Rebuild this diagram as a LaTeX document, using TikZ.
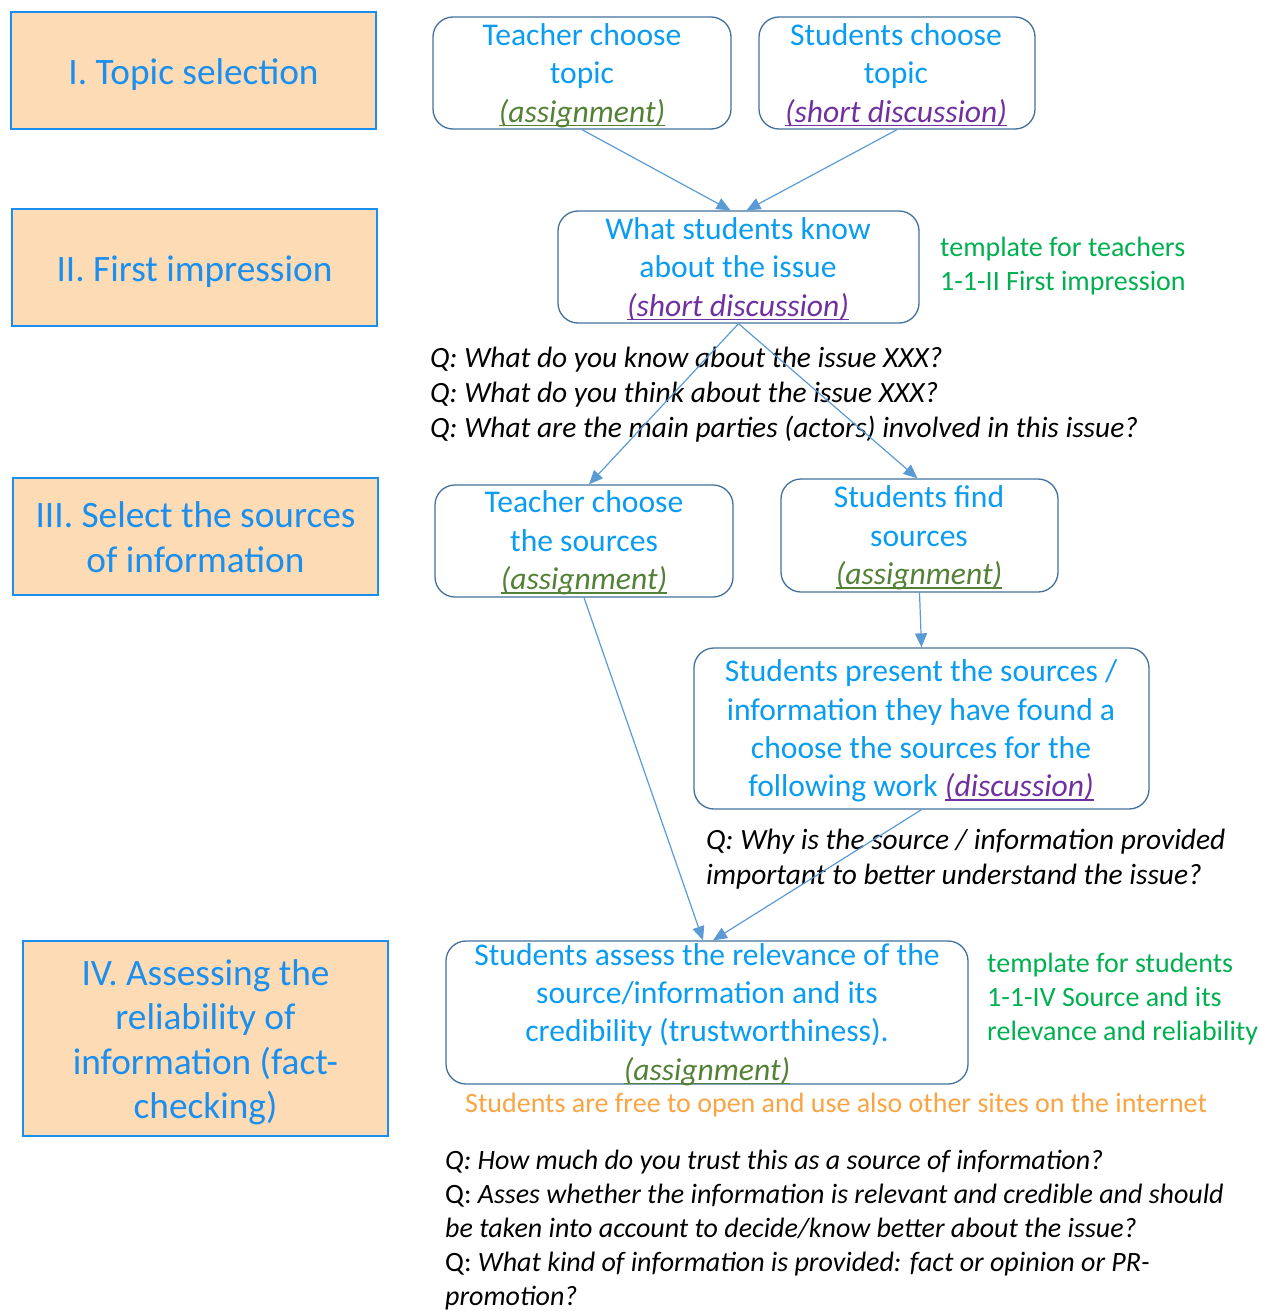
\documentclass[tikz,border=0pt]{standalone}
\usepackage{fontspec}
\setmainfont{Carlito}
\usetikzlibrary{arrows.meta}
\definecolor{peach}{HTML}{FDDBB4}
\definecolor{phaseblue}{HTML}{1A8FEF}
\definecolor{txtblue}{HTML}{0A9CF0}
\definecolor{edgeblue}{HTML}{41719C}
\definecolor{arrowc}{HTML}{5B9BD5}
\definecolor{olivegr}{HTML}{538135}
\definecolor{purp}{HTML}{7030A0}
\definecolor{grn}{HTML}{00B050}
\definecolor{orng}{HTML}{FAA443}
\newsavebox\ulbox
\newcommand\ulin[1]{\sbox\ulbox{#1}\rlap{\rule[-4pt]{\wd\ulbox}{1.3pt}}\usebox\ulbox}
\newcommand\asg{\textcolor{olivegr}{\ulin{\textit{(assignment)}}}}
\newcommand\sdisc{\textcolor{purp}{\ulin{\textit{(short discussion)}}}}
\begin{document}
\begin{tikzpicture}[x=1pt,y=-1pt,
  struts/.style={execute at begin node=\strut, execute at end node=\strut},
  phase/.style={draw=phaseblue, line width=2.6pt, fill=peach, inner sep=0pt,
    text=phaseblue, font=\fontsize{37.3}{44.5}\selectfont, align=center,
    execute at begin node={\rule{0pt}{\dimexpr0.7\baselineskip+10pt\relax}},
    execute at end node=\strut},
  phasetxt/.style={text=phaseblue, font=\fontsize{37.3}{44.5}\selectfont, align=center, inner sep=0pt, struts},
  stepbox/.style={draw=edgeblue, line width=1.3pt, rounded corners=20pt, inner sep=0pt},
  boxtxt/.style={text=txtblue, font=\fontsize{31.6}{38.3}\selectfont, align=center, inner sep=0pt, struts},
  qtxt/.style={font=\fontsize{29.4}{35}\selectfont, align=left, anchor=west, inner sep=0pt, struts},
  note/.style={font=\fontsize{28}{34}\selectfont, align=left, anchor=west, inner sep=0pt, struts},
  conn/.style={draw=arrowc, line width=1.2pt, -{Triangle[length=14pt,width=12pt]}}
]
\useasboundingbox (0,0) rectangle (1263,1311);

% phases
\node[phase, minimum width=365pt, minimum height=117pt] (p1) at (193.5,70.5) {I. Topic selection};
\node[phase, minimum width=365pt, minimum height=117pt] (p2) at (194.5,267.5) {II. First impression};
\node[phase, minimum width=365pt, minimum height=117pt] (p3) at (195.5,536.5) {};
\node[phase, minimum width=365pt, minimum height=195pt] (p4) at (205.5,1038.5) {};
\node[phasetxt] (p3t) at (195.5,543.5) {III. Select the sources\\of information};
\node[phasetxt] (p4t) at (205.5,1045.5) {IV. Assessing the\\reliability of\\information (fact-\\checking)};

% step boxes
\node[stepbox, minimum width=298pt, minimum height=112pt] (A) at (582,73) {};
\node[stepbox, minimum width=276pt, minimum height=112pt] (B) at (897,73) {};
\node[stepbox, minimum width=361pt, minimum height=112pt] (C) at (738.5,267) {};
\node[stepbox, minimum width=298pt, minimum height=112pt] (D) at (584,541) {};
\node[stepbox, minimum width=277pt, minimum height=113pt] (E) at (919.5,535.5) {};
\node[stepbox, minimum width=455pt, minimum height=161pt] (F) at (921.5,728.5) {};
\node[stepbox, minimum width=522pt, minimum height=143pt] (G) at (707,1012.5) {};

% box texts
\node[boxtxt] (At) at (582,78.5) {Teacher choose\\topic\\\asg};
\node[boxtxt] (Bt) at (896,78.5) {Students choose\\topic\\\sdisc};
\node[boxtxt] (Ct) at (738,272.5) {What students know\\about the issue\\\sdisc};
\node[boxtxt] (Dt) at (584,546) {Teacher choose\\the sources\\\asg};
\node[boxtxt] (Et) at (919,541) {Students find\\sources\\\asg};
\node[boxtxt] (Ft) at (921,734) {Students present the sources /\\information they have found a\\choose the sources for the\\following work \textcolor{purp}{\ulin{\textit{(discussion)}}}};
\node[boxtxt] (Gt) at (707,1017.5) {Students assess the relevance of the\\source/information and its\\credibility (trustworthiness).\\\asg};

% notes
\node[qtxt] (q1) at (430,397.5) {\itshape Q: What do you know about the issue XXX?\\\itshape Q: What do you think about the issue XXX?\\\itshape Q: What are the main parties (actors) involved in this issue?};
\node[qtxt] (q2) at (706,862.5) {\itshape Q: Why is the source / information provided\\\itshape important to better understand the issue?};
\node[note, text=grn] (tt) at (940,269) {template for teachers\\1-1-II First impression};
\node[note, text=grn] (ts) at (987,1002) {template for students\\1-1-IV Source and its\\relevance and reliability};
\node[note, text=orng] (free) at (465,1106) {Students are free to open and use also other sites on the internet};
\node[note] (q3) at (445,1233) {\textit{Q: How much do you trust this as a source of information?}\\Q: \textit{Asses whether the information is relevant and credible and should}\\\textit{be taken into account to decide/know better about the issue?}\\Q: \textit{What kind of information is provided: fact or opinion or PR-}\\\textit{promotion?}};

% connectors
\draw[conn] (A.south) -- ([xshift=-8pt]C.north);
\draw[conn] (B.south) -- ([xshift=8pt]C.north);
\draw[conn] (C.south) -- ([xshift=5pt]D.north);
\draw[conn] (C.south) -- ([xshift=-2pt]E.north);
\draw[conn] (E.south) -- (F.north);
\draw[conn] (D.south) -- ([xshift=-4pt]G.north);
\draw[conn] (F.south) -- ([xshift=6pt]G.north);
\end{tikzpicture}
\end{document}
